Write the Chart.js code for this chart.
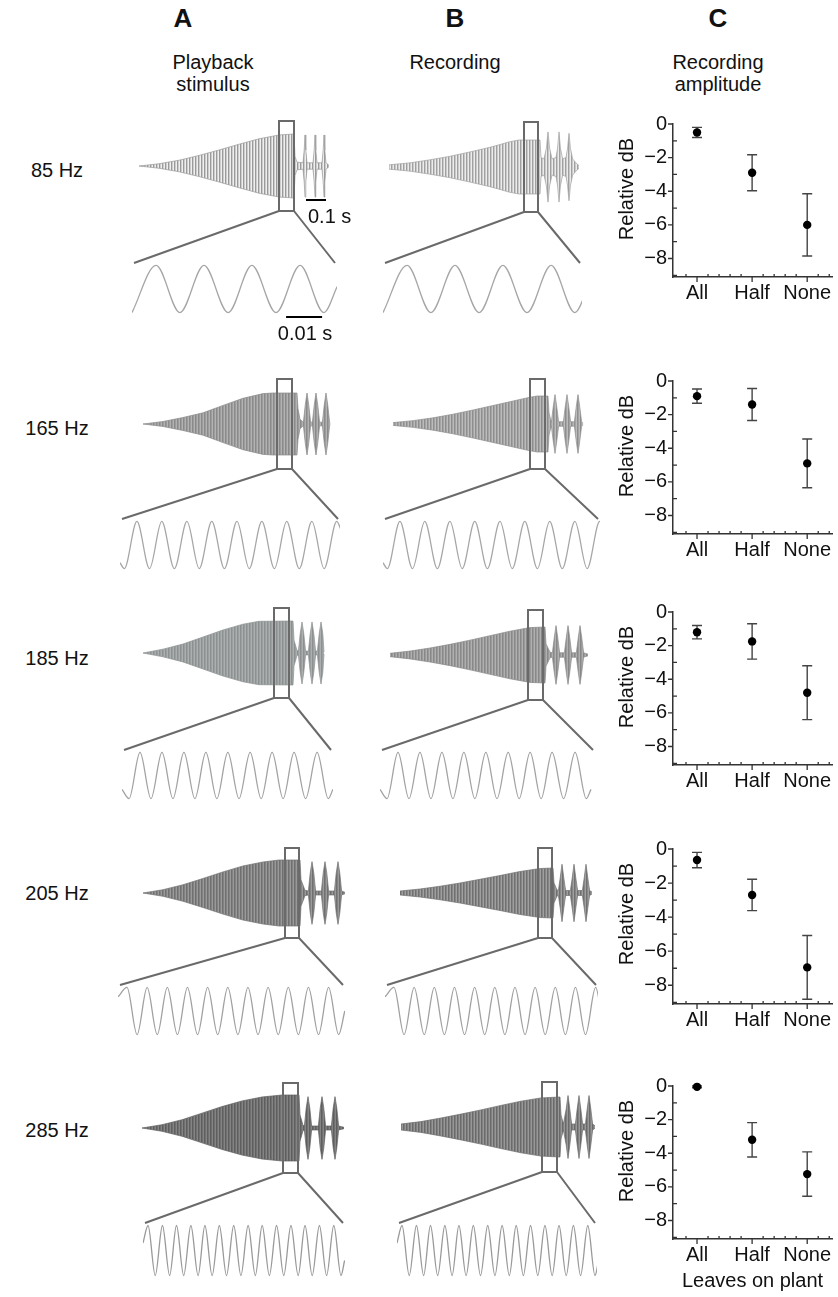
<!DOCTYPE html>
<html><head><meta charset="utf-8">
<script src="https://cdn.jsdelivr.net/npm/chart.js@4.4.1/dist/chart.umd.min.js"></script>
<style>
html,body{margin:0;padding:0;background:#fff;}
body{width:838px;height:1297px;position:relative;overflow:hidden;font-family:"Liberation Sans",Arial,sans-serif;color:#111;}
.t{position:absolute;transform:translate(-50%,-50%);white-space:nowrap;line-height:1;font-size:20px;}
.h{font-weight:bold;font-size:26px;}
canvas{position:absolute;}
</style></head><body>
<script>
// ---------------- DATA ----------------
const rowLabels = ['85 Hz','165 Hz','185 Hz','205 Hz','285 Hz'];
const categories = ['All','Half','None'];
const yTickValues = [0,-2,-4,-6,-8];

// Column C: recording amplitude (relative dB), mean and error
const mean85 = [-0.5, -2.9, -6.0];   const err85 = [0.3, 1.07, 1.85];
const mean165 = [-0.9, -1.4, -4.9];  const err165 = [0.42, 0.95, 1.45];
const mean185 = [-1.2, -1.75, -4.8]; const err185 = [0.4, 1.05, 1.6];
const mean205 = [-0.65, -2.7, -6.95];const err205 = [0.45, 0.92, 1.87];
const mean285 = [-0.05, -3.2, -5.24];const err285 = [0.05, 1.02, 1.32];

// Columns A/B: waveform envelopes [time s, relative amplitude]
const envA85 = [[0,0],[0.1,0.07],[0.2,0.18],[0.3,0.33],[0.4,0.5],[0.5,0.68],[0.6,0.85],[0.7,0.97],[0.775,1],[0.78,0.3],[0.79,0.12],[0.82,0.1],[0.826,0.5],[0.83,0.97],[0.834,0.5],[0.84,0.1],[0.87,0.1],[0.876,0.5],[0.88,0.97],[0.884,0.5],[0.89,0.1],[0.915,0.1],[0.921,0.5],[0.925,0.97],[0.929,0.5],[0.935,0.1],[0.95,0.02]];
const envB85 = [[0,0.08],[0.1,0.15],[0.2,0.26],[0.3,0.39],[0.4,0.55],[0.5,0.72],[0.55,0.82],[0.6,0.93],[0.65,1],[0.755,1],[0.76,0.35],[0.775,0.3],[0.787,0.7],[0.795,1.3],[0.803,0.7],[0.815,0.3],[0.835,0.35],[0.843,0.7],[0.85,1.3],[0.857,0.7],[0.868,0.3],[0.885,0.35],[0.893,0.7],[0.9,1.25],[0.907,0.7],[0.918,0.3],[0.935,0.15],[0.95,0.05]];
const envA165 = [[0,0],[0.1,0.08],[0.2,0.21],[0.3,0.36],[0.4,0.6],[0.5,0.83],[0.6,0.98],[0.65,1],[0.77,1],[0.775,0.5],[0.785,0.15],[0.802,0.06],[0.811,0.6],[0.82,1],[0.829,0.6],[0.838,0.06],[0.847,0.06],[0.856,0.6],[0.865,1],[0.874,0.6],[0.883,0.06],[0.897,0.06],[0.906,0.6],[0.915,1],[0.924,0.6],[0.933,0.06],[0.936,0.02]];
const envB165 = [[0,0.05],[0.1,0.12],[0.2,0.22],[0.3,0.35],[0.4,0.5],[0.5,0.66],[0.6,0.82],[0.68,0.95],[0.72,1],[0.775,1],[0.78,0.4],[0.79,0.1],[0.792,0.08],[0.801,0.6],[0.81,1.05],[0.819,0.6],[0.828,0.08],[0.852,0.08],[0.861,0.6],[0.87,1.05],[0.879,0.6],[0.888,0.08],[0.907,0.08],[0.916,0.6],[0.925,1.05],[0.934,0.6],[0.943,0.08],[0.95,0.03]];
const envA185 = [[0,0],[0.1,0.12],[0.2,0.28],[0.3,0.5],[0.4,0.72],[0.5,0.9],[0.58,0.99],[0.75,1],[0.755,0.4],[0.77,0.08],[0.777,0.06],[0.786,0.6],[0.795,0.97],[0.804,0.6],[0.813,0.06],[0.827,0.06],[0.836,0.6],[0.845,0.97],[0.854,0.6],[0.863,0.06],[0.872,0.06],[0.881,0.6],[0.89,0.97],[0.899,0.6],[0.905,0.03]];
const envB185 = [[0,0.06],[0.1,0.14],[0.2,0.25],[0.3,0.38],[0.4,0.53],[0.5,0.69],[0.6,0.85],[0.7,0.98],[0.775,1],[0.78,0.4],[0.8,0.1],[0.812,0.08],[0.821,0.6],[0.83,1.05],[0.839,0.6],[0.848,0.08],[0.872,0.08],[0.881,0.6],[0.89,1.05],[0.899,0.6],[0.908,0.08],[0.932,0.08],[0.941,0.6],[0.95,1.05],[0.959,0.6],[0.968,0.08],[0.99,0.03]];
const envA205 = [[0,0],[0.1,0.1],[0.2,0.25],[0.3,0.44],[0.4,0.64],[0.5,0.82],[0.6,0.94],[0.68,1],[0.785,1],[0.79,0.4],[0.81,0.08],[0.827,0.06],[0.836,0.6],[0.845,0.95],[0.854,0.6],[0.863,0.06],[0.892,0.06],[0.901,0.6],[0.91,0.95],[0.919,0.6],[0.928,0.06],[0.957,0.06],[0.966,0.6],[0.975,0.95],[0.984,0.6],[0.993,0.06],[1.01,0.02]];
const envB205 = [[0,0.08],[0.1,0.16],[0.2,0.27],[0.3,0.4],[0.4,0.55],[0.5,0.7],[0.6,0.86],[0.7,0.98],[0.765,1],[0.77,0.4],[0.785,0.12],[0.792,0.1],[0.801,0.6],[0.81,1.15],[0.819,0.6],[0.828,0.1],[0.852,0.1],[0.861,0.6],[0.87,1.15],[0.879,0.6],[0.888,0.1],[0.912,0.1],[0.921,0.6],[0.93,1.15],[0.939,0.6],[0.948,0.1],[0.96,0.04]];
const envA285 = [[0,0],[0.1,0.1],[0.2,0.25],[0.3,0.45],[0.4,0.65],[0.5,0.82],[0.6,0.94],[0.7,1],[0.785,1],[0.79,0.4],[0.805,0.08],[0.812,0.06],[0.821,0.6],[0.83,0.95],[0.839,0.6],[0.848,0.06],[0.882,0.06],[0.891,0.6],[0.9,0.95],[0.909,0.6],[0.918,0.06],[0.947,0.06],[0.956,0.6],[0.965,0.95],[0.974,0.6],[0.983,0.06],[1.01,0.02]];
const envB285 = [[0,0.1],[0.1,0.18],[0.2,0.3],[0.3,0.43],[0.4,0.57],[0.5,0.72],[0.6,0.86],[0.7,0.97],[0.795,1],[0.8,0.4],[0.812,0.1],[0.826,0.6],[0.835,1.05],[0.844,0.6],[0.853,0.1],[0.872,0.1],[0.881,0.6],[0.89,1.05],[0.899,0.6],[0.908,0.1],[0.922,0.1],[0.931,0.6],[0.94,1.05],[0.949,0.6],[0.958,0.1],[0.97,0.04]];

// zoomed windows (s) marked by the boxes
const winA85 = [0.70,0.775],  winB85 = [0.675,0.745];
const winA165 = [0.67,0.745], winB165 = [0.685,0.76];
const winA185 = [0.655,0.73], winB185 = [0.69,0.765];
const winA205 = [0.71,0.78],  winB205 = [0.69,0.76];
const winA285 = [0.705,0.78], winB285 = [0.705,0.78];

// zoomed sinusoids: extrema [time ms, relative amplitude]
const sine85 = [[0,-1],[6.7,1],[13.3,-1],[20,1],[26.7,-1],[33.3,1],[40,-1],[46.7,1],[53.3,-1],[57,0.1]];
const sine165 = [[0,-0.75],[1.2,-1],[4.7,1],[8.2,-1],[11.6,1],[15.1,-1],[18.6,1],[22,-1],[25.5,1],[29,-1],[32.5,1],[35.9,-1],[39.4,1],[42.9,-1],[46.3,1],[49.8,-1],[53.3,1],[56.7,-1],[60.2,1],[61.5,0.6]];
const sine185 = [[0,-0.6],[1.95,-1],[5,1],[8.05,-1],[11.1,1],[14.15,-1],[17.2,1],[20.25,-1],[23.3,1],[26.35,-1],[29.4,1],[32.5,-1],[35.6,1],[38.65,-1],[41.7,1],[44.75,-1],[47.8,1],[51,-1],[54.2,1],[57.3,-1],[58.6,-0.6]];
const sine205 = [[0,0.6],[2.5,1],[5.3,-1],[8.1,1],[10.9,-1],[13.7,1],[16.5,-1],[19.3,1],[22.1,-1],[24.9,1],[27.7,-1],[30.5,1],[33.3,-1],[36.1,1],[38.9,-1],[41.7,1],[44.5,-1],[47.3,1],[50.1,-1],[52.9,1],[55.7,-1],[58.5,1],[61.3,-1],[63,0]];
const sine285 = [[0,0.3],[1.4,1],[3.4,-1],[5.4,1],[7.4,-1],[9.3,1],[11.3,-1],[13.3,1],[15.3,-1],[17.2,1],[19.2,-1],[21.2,1],[23.2,-1],[25.2,1],[27.2,-1],[29.2,1],[31.2,-1],[33.1,1],[35.1,-1],[37.1,1],[39.1,-1],[41.1,1],[43.1,-1],[45,1],[47,-1],[49,1],[51,-1],[53,1],[55,-1],[56,-0.4]];

const scaleBarS = 0.1;   // s
const scaleBarMs = 10;   // ms

// ---------------- LAYOUT / STYLE ----------------
const PX_PER_S = 200, PX_PER_MS = 3.6, BOX_HALF = 45;
const FONT = '"Liberation Sans", Arial, sans-serif';
Chart.defaults.font.family = FONT;
Chart.defaults.color = '#111';

const WAVE = [
 [{start:139,center:166,amp:32,sineL:132,sineR:337,sineTop:264,sineH:50},{start:389,center:167,amp:27,sineL:383,sineR:582,sineTop:264,sineH:50}],
 [{start:143,center:424,amp:31,sineL:120,sineR:340,sineTop:520,sineH:50},{start:393,center:424,amp:28,sineL:383,sineR:600,sineTop:520,sineH:50}],
 [{start:143,center:653,amp:32,sineL:122,sineR:333,sineTop:751,sineH:49},{start:390,center:655,amp:28,sineL:380,sineR:595,sineTop:751,sineH:49}],
 [{start:143,center:893,amp:33,sineL:118,sineR:345,sineTop:986,sineH:50},{start:400,center:893,amp:25,sineL:385,sineR:598,sineTop:986,sineH:50}],
 [{start:142,center:1128,amp:33,sineL:143,sineR:345,sineTop:1224,sineH:53},{start:401,center:1127,amp:30,sineL:397,sineR:597,sineTop:1224,sineH:53}]
];
const COLS = [[105,365],[370,610]];
const FILLS = [
 [['#9a9a9a','#cdcdcd','#efefef'],['#a0a0a0','#cacaca','#ececec']],
 [['#8a8a8a','#9c9c9c','#b2b2b2'],['#8e8e8e','#a4a4a4','#bcbcbc']],
 [['#8c9090','#9aa0a0','#abafaf'],['#888888','#9a9a9a','#b0b0b0']],
 [['#707070','#828282','#9a9a9a'],['#707070','#868686','#a0a0a0']],
 [['#5e5e5e','#707070','#848484'],['#6a6a6a','#808080','#989898']]
];
const C_LAYOUT = [{y0:120.7,ppd:17.1},{y0:378.3,ppd:17.1},{y0:609,ppd:17.1},{y0:845.7,ppd:17.33},{y0:1083.3,ppd:17.17}];
const Y_MIN = -9.1, X_MIN = -0.436, X_MAX = 2.45;
const yMinor = [-1,-3,-5,-7,-9];
const xMinor = [-0.2,0.2,0.4,0.6,0.8,1.2,1.4,1.6,1.8,2.2,2.4];

function label(text, cx, cy, cls){
  const d = document.createElement('div');
  d.className = 't' + (cls ? ' ' + cls : '');
  d.textContent = text; d.style.left = cx + 'px'; d.style.top = cy + 'px';
  document.body.appendChild(d);
}
function mkCanvas(l, t, w, h){
  const c = document.createElement('canvas');
  c.width = Math.round(w); c.height = Math.round(h);
  c.style.left = l + 'px'; c.style.top = t + 'px';
  c.style.width = Math.round(w) + 'px'; c.style.height = Math.round(h) + 'px';
  document.body.appendChild(c); return c;
}
function tile(cols){
  const c = document.createElement('canvas'); c.width = cols.length; c.height = 1;
  const x = c.getContext('2d'); cols.forEach((col,i)=>{x.fillStyle=col; x.fillRect(i,0,1,1);});
  return c;
}
const baseOpts = () => ({responsive:false, animation:false, events:[], devicePixelRatio:1,
  plugins:{legend:{display:false}, tooltip:{enabled:false}}});

function drawWave(col, p, env, win, fillCols, bar){
  const [L, R] = COLS[col];
  const top = p.center - 58, bottom = p.sineTop;
  const c = mkCanvas(L, top, R - L, bottom - top);
  const pat = c.getContext('2d').createPattern(tile(fillCols), 'repeat');
  const up = env.map(([t,a]) => ({x:t, y:a}));
  const lo = env.map(([t,a]) => ({x:t, y:-a}));
  const opts = baseOpts();
  opts.layout = {padding:0};
  opts.scales = {
    x:{type:'linear', display:false, min:(L - p.start)/PX_PER_S, max:(R - p.start)/PX_PER_S},
    y:{type:'linear', display:false, min:-(bottom - p.center)/p.amp, max:(p.center - top)/p.amp}
  };
  new Chart(c, {type:'line',
    data:{datasets:[
      {data:up, borderColor:fillCols[0], borderWidth:0.7, pointRadius:0, fill:false, tension:0},
      {data:lo, borderColor:fillCols[0], borderWidth:0.7, pointRadius:0, fill:'-1', backgroundColor:pat, tension:0}
    ]},
    options:opts,
    plugins:[{id:'zoomBox', afterDatasetsDraw(ch){
      const ctx = ch.ctx, xs = ch.scales.x, ys = ch.scales.y;
      const x0 = xs.getPixelForValue(win[0]), x1 = xs.getPixelForValue(win[1]);
      const yt = ys.getPixelForValue(BOX_HALF/p.amp), yb = ys.getPixelForValue(-BOX_HALF/p.amp);
      const sl = xs.getPixelForValue((p.sineL - p.start)/PX_PER_S);
      const sr = xs.getPixelForValue((p.sineR - p.start)/PX_PER_S);
      ctx.save();
      ctx.strokeStyle = '#6a6a6a'; ctx.lineWidth = 2;
      ctx.strokeRect(x0, yt, x1 - x0, yb - yt);
      ctx.beginPath();
      ctx.moveTo(x0, yb); ctx.lineTo(sl + 2, ch.chartArea.bottom - 1);
      ctx.moveTo(x1, yb); ctx.lineTo(sr - 2, ch.chartArea.bottom - 1);
      ctx.stroke();
      if (bar){
        const b0 = xs.getPixelForValue(bar), b1 = xs.getPixelForValue(bar + scaleBarS);
        const by = ys.getPixelForValue(-34/p.amp);
        ctx.strokeStyle = '#000'; ctx.lineWidth = 2;
        ctx.beginPath(); ctx.moveTo(b0, by); ctx.lineTo(b1, by); ctx.stroke();
        ctx.fillStyle = '#111'; ctx.font = '20px ' + FONT;
        ctx.textAlign = 'left'; ctx.textBaseline = 'alphabetic';
        ctx.fillText('0.1 s', b0 + 2, by + 23);
      }
      ctx.restore();
    }}]
  });
}

function drawSine(p, ext, color, bar){
  const w = p.sineR - p.sineL;
  const extra = bar !== undefined ? 34 : 0;
  const c = mkCanvas(p.sineL, p.sineTop, w, p.sineH + extra);
  const opts = baseOpts();
  opts.layout = {padding:{bottom:extra}};
  opts.scales = {
    x:{type:'linear', display:false, min:0, max:w/PX_PER_MS},
    y:{type:'linear', display:false, min:-1.06, max:1.06}
  };
  new Chart(c, {type:'line',
    data:{datasets:[{data:ext.map(([t,v]) => ({x:t, y:v})), borderColor:color, borderWidth:1.3,
      pointRadius:0, cubicInterpolationMode:'monotone', fill:false}]},
    options:opts,
    plugins:bar === undefined ? [] : [{id:'msBar', afterDraw(ch){
      const ctx = ch.ctx, xs = ch.scales.x;
      const b0 = xs.getPixelForValue(bar), b1 = xs.getPixelForValue(bar + scaleBarMs);
      const by = ch.chartArea.bottom + 3;
      ctx.save(); ctx.strokeStyle = '#000'; ctx.lineWidth = 2;
      ctx.beginPath(); ctx.moveTo(b0, by); ctx.lineTo(b1, by); ctx.stroke();
      ctx.fillStyle = '#111'; ctx.font = '20px ' + FONT; ctx.textAlign = 'center';
      ctx.fillText('0.01 s', (b0 + b1)/2 + 1, by + 23);
      ctx.restore();
    }}]
  });
}

function drawAmp(cl, means, errs, last){
  const padTop = 15, xh = last ? 54 : 36;
  const ah = -Y_MIN * cl.ppd;
  const top = cl.y0 - padTop;
  const c = mkCanvas(600, top, 238, padTop + ah + xh);
  const opts = baseOpts();
  opts.layout = {padding:{top:padTop, right:6, left:0, bottom:0}};
  opts.scales = {
    x:{type:'linear', min:X_MIN, max:X_MAX,
       afterBuildTicks:s => { s.ticks = categories.map((_,i) => ({value:i})); },
       ticks:{callback:v => categories[v], font:{size:20}, color:'#111', padding:4, maxRotation:0, autoSkip:false},
       grid:{display:false, drawTicks:false}, border:{display:true, color:'#333', width:1.5},
       title:{display:last, text:'Leaves on plant', font:{size:20}, color:'#111', padding:{top:0, bottom:0}},
       afterFit:s => { s.height = xh; }},
    y:{type:'linear', min:Y_MIN, max:0,
       afterBuildTicks:s => { s.ticks = yTickValues.map(v => ({value:v})); },
       ticks:{callback:v => v === 0 ? '0' : '\u2212' + Math.abs(v), font:{size:20}, color:'#111', padding:6},
       grid:{display:false, drawTicks:false}, border:{display:true, color:'#333', width:1.5},
       afterFit:s => { s.width = 73; }}
  };
  new Chart(c, {type:'scatter',
    data:{datasets:[{data:means.map((m,i) => ({x:i, y:m})), pointRadius:4.2, pointBackgroundColor:'#000',
      pointBorderWidth:0, clip:false}]},
    options:opts,
    plugins:[{id:'errs', beforeDatasetsDraw(ch){
      const ctx = ch.ctx, xs = ch.scales.x, ys = ch.scales.y;
      ctx.save(); ctx.strokeStyle = '#444'; ctx.lineWidth = 1.4; ctx.beginPath();
      means.forEach((m,i) => {
        const x = xs.getPixelForValue(i), a = ys.getPixelForValue(m + errs[i]), b = ys.getPixelForValue(m - errs[i]);
        ctx.moveTo(x, a); ctx.lineTo(x, b);
        ctx.moveTo(x - 5, a); ctx.lineTo(x + 5, a);
        ctx.moveTo(x - 5, b); ctx.lineTo(x + 5, b);
      });
      ctx.stroke(); ctx.restore();
    }, afterDraw(ch){
      const ctx = ch.ctx, xs = ch.scales.x, ys = ch.scales.y, ax = ch.chartArea.left, ay = ch.chartArea.bottom;
      ctx.save(); ctx.strokeStyle = '#333'; ctx.lineWidth = 1.3; ctx.beginPath();
      yTickValues.forEach(v => { const y = ys.getPixelForValue(v); ctx.moveTo(ax - 5, y); ctx.lineTo(ax, y); });
      yMinor.forEach(v => { const y = ys.getPixelForValue(v); ctx.moveTo(ax, y); ctx.lineTo(ax + 4, y); });
      categories.forEach((_,i) => { const x = xs.getPixelForValue(i); ctx.moveTo(x, ay); ctx.lineTo(x, ay + 5); });
      xMinor.forEach(v => { const x = xs.getPixelForValue(v); ctx.moveTo(x, ay); ctx.lineTo(x, ay - 3); });
      ctx.stroke();
      ctx.fillStyle = '#111'; ctx.font = '20px ' + FONT; ctx.textAlign = 'center'; ctx.textBaseline = 'middle';
      ctx.translate(27, padTop + 68); ctx.rotate(-Math.PI/2);
      ctx.fillText('Relative dB', 0, 0);
      ctx.restore();
    }}]
  });
}

// ---------------- BUILD ----------------
label('A', 183, 18, 'h'); label('B', 455, 18, 'h'); label('C', 718, 18, 'h');
label('Playback', 213, 62); label('stimulus', 213, 84);
label('Recording', 455, 62);
label('Recording', 718, 62); label('amplitude', 718, 84);
const rowY = [170, 428, 658, 893, 1130];
rowLabels.forEach((t,i) => label(t, 57, rowY[i]));

const envs = [[envA85,envB85],[envA165,envB165],[envA185,envB185],[envA205,envB205],[envA285,envB285]];
const wins = [[winA85,winB85],[winA165,winB165],[winA185,winB185],[winA205,winB205],[winA285,winB285]];
const sines = [sine85, sine165, sine185, sine205, sine285];
const means = [mean85, mean165, mean185, mean205, mean285];
const errs = [err85, err165, err185, err205, err285];
const sineCol = ['#a6a6a6','#a6a6a6','#a2a2a2','#a0a0a0','#999999'];

for (let r = 0; r < 5; r++){
  for (let c = 0; c < 2; c++){
    const p = WAVE[r][c];
    drawWave(c, p, envs[r][c], wins[r][c], FILLS[r][c], (r === 0 && c === 0) ? 0.835 : null);
    drawSine(p, sines[r], sineCol[r], (r === 0 && c === 0) ? 42.8 : undefined);
  }
  drawAmp(C_LAYOUT[r], means[r], errs[r], r === 4);
}
</script>
</body></html>
